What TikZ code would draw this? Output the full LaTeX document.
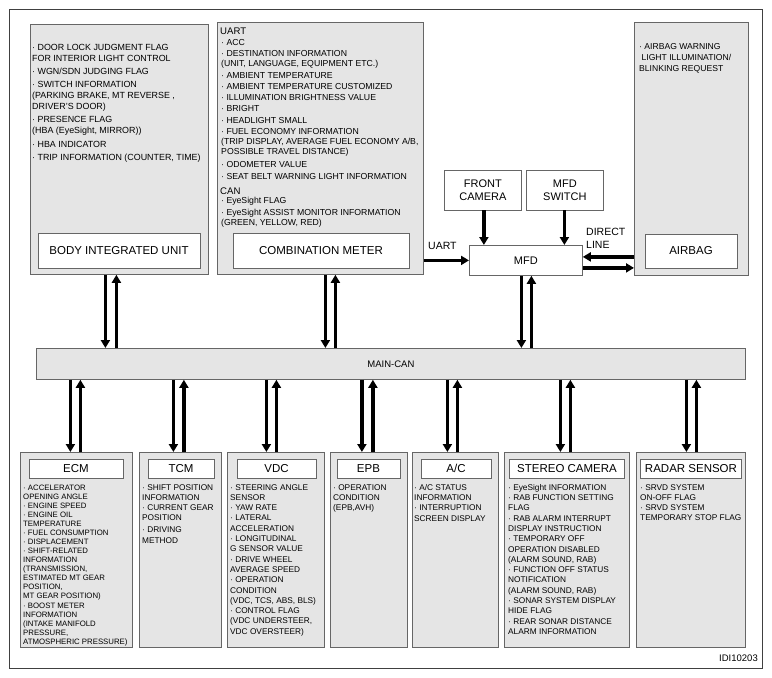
\documentclass[tikz,border=0pt]{standalone}
\usepackage{fontspec}
\setmainfont{Liberation Sans}
\usetikzlibrary{arrows.meta}

\tikzset{
  unitbox/.style={draw=black!60, fill=black!10, line width=0.8pt, anchor=north west, inner sep=0pt},
  titlebox/.style={draw=black!60, fill=white, line width=0.8pt, inner sep=0pt, font=\fontsize{11.5}{13}\selectfont},
  plainbox/.style={draw=black!60, fill=white, line width=0.8pt, inner sep=0pt, anchor=north west, align=center, font=\fontsize{11}{13}\selectfont},
  infotext/.style={anchor=north west, align=left, inner sep=0pt, font=\fontsize{8.9}{10.5}\selectfont},
  smalltext/.style={anchor=north west, align=left, inner sep=0pt, font=\fontsize{8.3}{10.3}\selectfont},
  headtext/.style={anchor=north west, inner sep=0pt, font=\fontsize{9.6}{11}\selectfont},
  linelabel/.style={anchor=north west, align=left, inner sep=0pt, font=\fontsize{10.5}{12.5}\selectfont},
  bus/.style={line width=3.3pt, -{Triangle[length=8pt,width=9pt]}},
}

\begin{document}
\begin{tikzpicture}[x=1pt,y=-1pt]
\useasboundingbox (0,0) rectangle (772,678);
\draw[black!75, line width=0.8pt] (9,9) rectangle (762,668);

% upper units
\node[unitbox, minimum width=178pt, minimum height=250pt] (body) at (30,24) {};
\node[titlebox, minimum width=162pt, minimum height=35pt] (bodytitle) at (119,250.5) {BODY INTEGRATED UNIT};
\node[infotext, font=\fontsize{8.9}{11}\selectfont] (bodyinfo) at (32,44) {%
· DOOR LOCK JUDGMENT FLAG\\ FOR INTERIOR LIGHT CONTROL\\[2pt]
· WGN/SDN JUDGING FLAG\\[2pt]
· SWITCH INFORMATION\\(PARKING BRAKE, MT REVERSE ,\\DRIVER'S DOOR)\\[2pt]
· PRESENCE FLAG\\(HBA (EyeSight, MIRROR))\\[3pt]
· HBA INDICATOR\\[2pt]
· TRIP INFORMATION (COUNTER, TIME)};

\node[unitbox, minimum width=206pt, minimum height=252pt] (combo) at (217,22) {};
\node[titlebox, minimum width=176pt, minimum height=35pt] (combotitle) at (321,250.5) {COMBINATION METER};
\node[headtext] (uarthead) at (220,27.5) {UART};
\node[infotext, font=\fontsize{8.7}{10}\selectfont] (uartinfo) at (221,39) {%
· ACC\\[1.5pt]
· DESTINATION INFORMATION\\(UNIT, LANGUAGE, EQUIPMENT ETC.)\\[1.5pt]
· AMBIENT TEMPERATURE\\[1.5pt]
· AMBIENT TEMPERATURE CUSTOMIZED\\[1pt]
· ILLUMINATION BRIGHTNESS VALUE\\[1pt]
· BRIGHT\\[1.5pt]
· HEADLIGHT SMALL\\[1.5pt]
· FUEL ECONOMY INFORMATION\\(TRIP DISPLAY, AVERAGE FUEL ECONOMY A/B,\\POSSIBLE TRAVEL DISTANCE)\\[2.5pt]
· ODOMETER VALUE\\[2pt]
· SEAT BELT WARNING LIGHT INFORMATION};
\node[headtext] (canhead) at (220,187.5) {CAN};
\node[infotext, font=\fontsize{8.7}{10}\selectfont] (caninfo) at (221,197) {%
· EyeSight FLAG\\[1.5pt]
· EyeSight ASSIST MONITOR INFORMATION\\(GREEN, YELLOW, RED)};

\node[unitbox, minimum width=114pt, minimum height=253pt] (airbag) at (634,22) {};
\node[titlebox, minimum width=92pt, minimum height=34pt] (airbagtitle) at (691,251) {AIRBAG};
\node[infotext, font=\fontsize{8.6}{11}\selectfont] (airbaginfo) at (639,43) {%
· AIRBAG WARNING\\\ LIGHT ILLUMINATION/\\BLINKING REQUEST};

% MFD and inputs
\node[plainbox, minimum width=77pt, minimum height=40pt] (frontcam) at (444,169.5) {FRONT\\CAMERA};
\node[plainbox, minimum width=77pt, minimum height=40pt] (mfdsw) at (526,169.5) {MFD\\SWITCH};
\node[plainbox, minimum width=113pt, minimum height=30pt] (mfd) at (469,245) {MFD};
\node[linelabel] (uartlabel) at (428,242) {UART};
\node[linelabel] (directlabel) at (586,228) {DIRECT\\LINE};

\draw[bus] ([xshift=1pt]frontcam.south) -- ([xshift=1pt]frontcam.south |- mfd.north);
\draw[bus] ([xshift=-0.5pt]mfdsw.south) -- ([xshift=-0.5pt]mfdsw.south |- mfd.north);
\draw[bus] (combo.east |- mfd.west) -- (mfd.west);
\draw[bus] ([yshift=3.5pt]airbag.west |- mfd.east) -- ([yshift=3.5pt]mfd.east);
\draw[bus] ([yshift=-7.5pt]mfd.east) -- ([yshift=-7.5pt]mfd.east -| airbag.west);

% bus
\node[unitbox, minimum width=709pt, minimum height=31pt] (can) at (36,348) {};
\node[inner sep=0pt, font=\fontsize{9.5}{11}\selectfont] (canlabel) at (can.center) {MAIN-CAN};

\draw[bus] ([xshift=-14pt]body.south) -- ([xshift=-14pt]body.south |- can.north);
\draw[bus] ([xshift=-3pt]body.south |- can.north) -- ([xshift=-3pt]body.south);
\draw[bus] ([xshift=5pt]combo.south) -- ([xshift=5pt]combo.south |- can.north);
\draw[bus] ([xshift=15pt]combo.south |- can.north) -- ([xshift=15pt]combo.south);
\draw[bus] ([xshift=-4.5pt]mfd.south) -- ([xshift=-4.5pt]mfd.south |- can.north);
\draw[bus] ([xshift=5.5pt]mfd.south |- can.north) -- ([xshift=5.5pt]mfd.south);

% lower units
\node[unitbox, minimum width=112pt, minimum height=195pt] (ecm) at (20,452) {};
\node[titlebox, minimum width=94pt, minimum height=19pt] (ecmtitle) at (76,468.5) {ECM};
\node[smalltext, font=\fontsize{7.8}{9.07}\selectfont] (ecminfo) at (23,484.5) {%
· ACCELERATOR\\OPENING ANGLE\\· ENGINE SPEED\\· ENGINE OIL\\TEMPERATURE\\
· FUEL CONSUMPTION\\· DISPLACEMENT\\· SHIFT-RELATED\\INFORMATION\\(TRANSMISSION,\\
ESTIMATED MT GEAR\\POSITION,\\MT GEAR POSITION)\\· BOOST METER\\INFORMATION\\
(INTAKE MANIFOLD\\PRESSURE,\\ATMOSPHERIC PRESSURE)};

\node[unitbox, minimum width=82pt, minimum height=195pt] (tcm) at (139,452) {};
\node[titlebox, minimum width=66pt, minimum height=19pt] (tcmtitle) at (181,468.5) {TCM};
\node[smalltext] (tcminfo) at (142,484) {%
· SHIFT POSITION\\INFORMATION\\· CURRENT GEAR\\POSITION\\[1.5pt]· DRIVING\\METHOD};

\node[unitbox, minimum width=97pt, minimum height=195pt] (vdc) at (227,452) {};
\node[titlebox, minimum width=79pt, minimum height=19pt] (vdctitle) at (276.5,468.5) {VDC};
\node[smalltext] (vdcinfo) at (230,484) {%
· STEERING ANGLE\\SENSOR\\· YAW RATE\\· LATERAL\\ACCELERATION\\· LONGITUDINAL\\
G SENSOR VALUE\\· DRIVE WHEEL\\AVERAGE SPEED\\· OPERATION\\CONDITION\\
(VDC, TCS, ABS, BLS)\\· CONTROL FLAG\\(VDC UNDERSTEER,\\VDC OVERSTEER)};

\node[unitbox, minimum width=77pt, minimum height=195pt] (epb) at (330,452) {};
\node[titlebox, minimum width=63pt, minimum height=19pt] (epbtitle) at (368.5,468.5) {EPB};
\node[smalltext] (epbinfo) at (333,484) {%
· OPERATION\\CONDITION\\(EPB,AVH)};

\node[unitbox, minimum width=86pt, minimum height=195pt] (ac) at (412,452) {};
\node[titlebox, minimum width=70pt, minimum height=19pt] (actitle) at (456,468.5) {A/C};
\node[smalltext] (acinfo) at (414,484) {%
· A/C STATUS\\INFORMATION\\· INTERRUPTION\\SCREEN DISPLAY};

\node[unitbox, minimum width=125pt, minimum height=195pt] (stereo) at (504,452) {};
\node[titlebox, minimum width=115pt, minimum height=19pt] (stereotitle) at (567,468.5) {STEREO CAMERA};
\node[smalltext] (stereoinfo) at (508,484) {%
· EyeSight INFORMATION\\· RAB FUNCTION SETTING\\FLAG\\· RAB ALARM INTERRUPT\\
DISPLAY INSTRUCTION\\· TEMPORARY OFF\\OPERATION DISABLED\\(ALARM SOUND, RAB)\\
· FUNCTION OFF STATUS\\NOTIFICATION\\(ALARM SOUND, RAB)\\· SONAR SYSTEM DISPLAY\\
HIDE FLAG\\· REAR SONAR DISTANCE\\ALARM INFORMATION};

\node[unitbox, minimum width=109pt, minimum height=195pt] (radar) at (636,452) {};
\node[titlebox, minimum width=101pt, minimum height=19pt] (radartitle) at (691,468.5) {RADAR SENSOR};
\node[smalltext] (radarinfo) at (640,484) {%
· SRVD SYSTEM\\ON-OFF FLAG\\· SRVD SYSTEM\\TEMPORARY STOP FLAG};

\draw[bus] ([xshift=-6pt]can.south -| ecm.north) -- ([xshift=-6pt]ecm.north);
\draw[bus] ([xshift=4pt]ecm.north) -- ([xshift=4pt]can.south -| ecm.north);
\draw[bus] ([xshift=-7pt]can.south -| tcm.north) -- ([xshift=-7pt]tcm.north);
\draw[bus] ([xshift=3.5pt]tcm.north) -- ([xshift=3.5pt]can.south -| tcm.north);
\draw[bus] ([xshift=-9.5pt]can.south -| vdc.north) -- ([xshift=-9.5pt]vdc.north);
\draw[bus] ([xshift=0.5pt]vdc.north) -- ([xshift=0.5pt]can.south -| vdc.north);
\draw[bus] ([xshift=-7pt]can.south -| epb.north) -- ([xshift=-7pt]epb.north);
\draw[bus] ([xshift=4pt]epb.north) -- ([xshift=4pt]can.south -| epb.north);
\draw[bus] ([xshift=-8pt]can.south -| ac.north) -- ([xshift=-8pt]ac.north);
\draw[bus] ([xshift=2pt]ac.north) -- ([xshift=2pt]can.south -| ac.north);
\draw[bus] ([xshift=-6.5pt]can.south -| stereo.north) -- ([xshift=-6.5pt]stereo.north);
\draw[bus] ([xshift=3.5pt]stereo.north) -- ([xshift=3.5pt]can.south -| stereo.north);
\draw[bus] ([xshift=-4.5pt]can.south -| radar.north) -- ([xshift=-4.5pt]radar.north);
\draw[bus] ([xshift=5.5pt]radar.north) -- ([xshift=5.5pt]can.south -| radar.north);

\node[anchor=east, inner sep=0pt, font=\fontsize{9.5}{11}\selectfont] (figid) at (758,658) {IDI10203};
\end{tikzpicture}
\end{document}
